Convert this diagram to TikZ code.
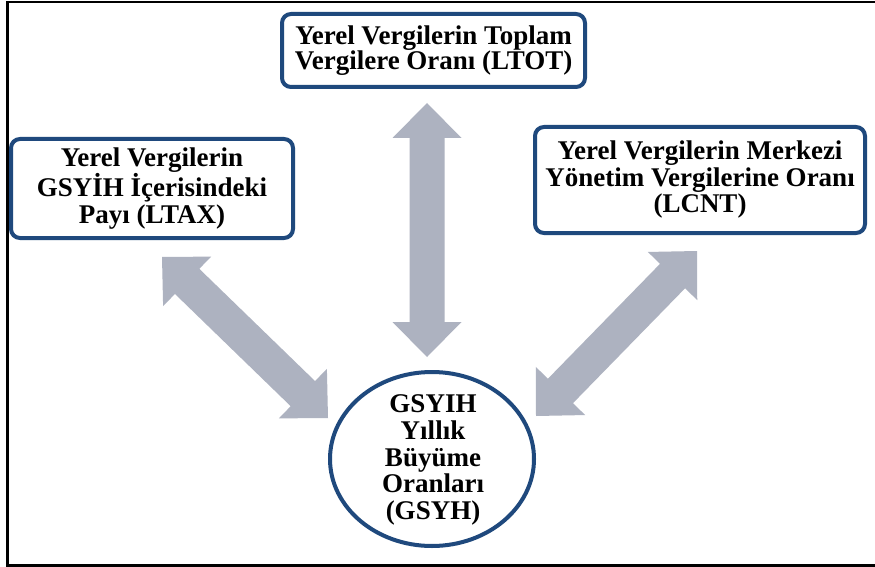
\documentclass[tikz,border=0pt]{standalone}
\usepackage{fontspec}
\setmainfont{Liberation Serif}
\usetikzlibrary{calc,shapes.geometric}
\definecolor{boxblue}{RGB}{31,73,125}
\definecolor{arrgray}{RGB}{173,178,192}
\tikzset{
  box/.style={draw=boxblue, line width=4pt, rounded corners=9pt, fill=white,
    align=center, inner sep=0pt},
  oval/.style={ellipse, draw=boxblue, line width=4pt, fill=white, inner sep=0pt},
  txt/.style={align=center, inner sep=0pt},
  dbl/.style={fill=arrgray},
  frameline/.style={draw=black, line width=2.5pt}
}
\newcommand\dblarrow[2]{%
  \fill[dbl] (#1)
    -- ($(#1)!35pt!(#2)!34.5pt!90:(#2)$)
    -- ($(#1)!35pt!(#2)!17.5pt!90:(#2)$)
    -- ($(#2)!35pt!(#1)!17.5pt!-90:(#1)$)
    -- ($(#2)!35pt!(#1)!34.5pt!-90:(#1)$)
    -- (#2)
    -- ($(#2)!35pt!(#1)!34.5pt!90:(#1)$)
    -- ($(#2)!35pt!(#1)!17.5pt!90:(#1)$)
    -- ($(#1)!35pt!(#2)!17.5pt!-90:(#2)$)
    -- ($(#1)!35pt!(#2)!34.5pt!-90:(#2)$)
    -- cycle;}
\begin{document}
\begin{tikzpicture}[x=1pt,y=1pt]
\useasboundingbox (0,0) rectangle (875,-567);
\fill[white] (0,0) rectangle (875,-567);
\draw[frameline] (877,-2) -- (7.5,-2) -- (7.5,-565.5) -- (877,-565.5);

% nodes
\node[box, minimum width=303pt, minimum height=73pt,
  font=\bfseries\fontsize{27}{25}\selectfont] (ltot) at (433.5,-50.5)
  {Yerel Vergilerin Toplam\\Vergilere Oranı (LTOT)};
\node[box, minimum width=282pt, minimum height=99pt,
  font=\bfseries\fontsize{27}{27.5}\selectfont] (ltax) at (152,-188.5)
  {Yerel Vergilerin\\GSYİH İçerisindeki\\Payı (LTAX)};
\node[box, minimum width=330pt, minimum height=106pt,
  font=\bfseries\fontsize{27}{26.5}\selectfont] (lcnt) at (700,-180)
  {Yerel Vergilerin Merkezi\\Yönetim Vergilerine Oranı\\(LCNT)};
\node[oval, minimum width=204pt, minimum height=174pt] (gsyh) at (432,-459) {};
\node[txt, font=\bfseries\fontsize{27}{26.7}\selectfont] (gsyhtxt) at (433,-460)
  {GSYIH\\Yıllık\\Büyüme\\Oranları\\(GSYH)};

% arrow end points
\coordinate (ltotA) at (427,-103);
\coordinate (ltotB) at (427,-357);
\coordinate (ltaxA) at (162,-257);
\coordinate (ltaxB) at (328,-418);
\coordinate (lcntA) at (697,-251);
\coordinate (lcntB) at (536,-416);

\dblarrow{ltotA}{ltotB}
\dblarrow{ltaxA}{ltaxB}
\dblarrow{lcntA}{lcntB}
\end{tikzpicture}
\end{document}
